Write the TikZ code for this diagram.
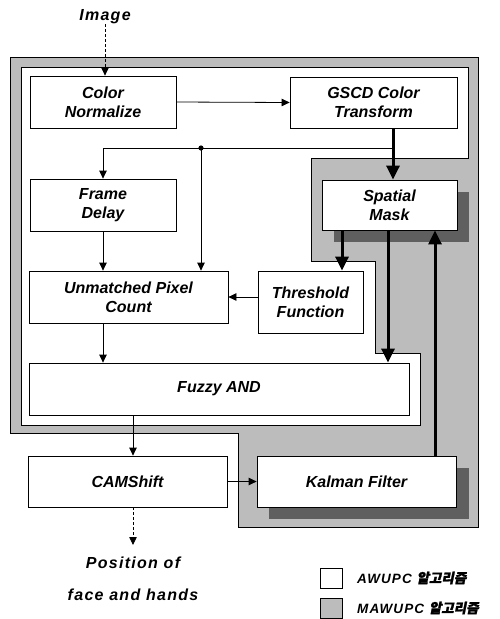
\documentclass[tikz,border=0pt]{standalone}
\usepackage{fontspec}
\setmainfont{Liberation Sans}
\newfontfamily\spaced[LetterSpace=8]{Liberation Sans}
\newfontfamily\krfont[FakeSlant=0.2,FakeBold=1.5]{Noto Sans CJK KR}
\usetikzlibrary{arrows.meta}
\definecolor{graybg}{RGB}{188,188,188}
\definecolor{shadowc}{RGB}{95,95,95}
\newcommand{\lblfont}{\bfseries\itshape\fontsize{16}{19}\selectfont}
\newcommand{\bigfont}{\spaced\bfseries\itshape\fontsize{16}{19}\selectfont}
\newcommand{\legfont}{\spaced\bfseries\itshape\fontsize{13.5}{16}\selectfont}
\begin{document}
\begin{tikzpicture}[x=1pt,y=-1pt,
  blk/.style={draw,line width=0.8pt,fill=white,inner sep=0pt,align=center,font=\lblfont},
  tarrow/.style={line width=0.8pt,-{Triangle[length=8pt,width=7.5pt]}},
  darrow/.style={line width=0.8pt,dashed,dash pattern=on 3pt off 2pt,-{Triangle[length=8pt,width=7.5pt]}},
  karrow/.style={line width=3pt,-{Triangle[length=14pt,width=13pt]}},
  lbl/.style={inner sep=0pt,font=\bigfont}]
\useasboundingbox (0,0) rectangle (500,619);
\fill[white] (0,0) rectangle (500,619);
% regions
\filldraw[fill=graybg,line width=0.8pt] (10,57) -- (478,57) -- (478,527) -- (238,527) -- (238,433) -- (10,433) -- cycle;
\filldraw[fill=white,line width=0.8pt] (21,67) -- (468,67) -- (468,158) -- (311,158) -- (311,261) -- (375,261) -- (375,353) -- (420,353) -- (420,425) -- (21,425) -- cycle;
% shadows
\fill[shadowc] (334,192) rectangle (469,242);
\fill[shadowc] (269,468) rectangle (469,519);
% boxes
\node[blk,minimum width=146pt,minimum height=52pt] (cn) at (103,102) {Color\\Normalize};
\node[blk,minimum width=167pt,minimum height=51pt] (gscd) at (373.5,102.5) {GSCD Color\\Transform};
\node[blk,minimum width=146pt,minimum height=52pt] (fd) at (103,205) {Frame\\Delay};
\node[blk,minimum width=199pt,minimum height=52pt] (upc) at (128.5,297) {Unmatched Pixel\\Count};
\node[blk,minimum width=105pt,minimum height=62pt] (thr) at (310.5,302) {Threshold\\Function};
\node[blk,minimum width=135pt,minimum height=50pt] (sm) at (389.5,205) {Spatial\\Mask};
\node[blk,minimum width=380pt,minimum height=52pt] (fand) at (219,389) {Fuzzy AND};
\node[blk,minimum width=199pt,minimum height=51pt] (cam) at (127.5,481.5) {CAMShift};
\node[blk,minimum width=199pt,minimum height=51pt] (kal) at (356.5,481.5) {Kalman Filter};
% texts
\node[lbl] (img) at (105,17) {Image};
\node[lbl] (pos1) at (133,563) {Position of};
\node[lbl] (pos2) at (133,595) {face and hands};
% column coordinates
\coordinate (xg) at (393,0);
\coordinate (c1) at (342,0);
\coordinate (c2) at (388,0);
\coordinate (c3) at (435,0);
\coordinate (c4) at (133,0);
\coordinate (br) at (393,148);
\coordinate (dot) at (201,148);
\coordinate (pend) at (133,545);
% connectors
\draw[darrow] (img.south) -- (img.south |- cn.north);
\draw[tarrow] (cn.east) -- (gscd.west);
\draw[karrow] (gscd.south -| xg) -- (sm.north -| xg);
\draw[line width=0.8pt] (br) -- (dot);
\draw[tarrow] (dot) -- (dot -| fd.north) -- (fd.north);
\fill (dot) circle (2.6pt);
\draw[tarrow] (dot) -- (dot |- upc.north);
\draw[tarrow] (fd.south) -- (fd.south |- upc.north);
\draw[tarrow] (thr.west |- upc.east) -- (upc.east);
\draw[karrow] (sm.south -| c1) -- (thr.north -| c1);
\draw[karrow] (sm.south -| c2) -- (fand.north -| c2);
\draw[karrow] (kal.north -| c3) -- (sm.south -| c3);
\draw[tarrow] (upc.south -| fd.south) -- (fand.north -| fd.south);
\draw[tarrow] (fand.south -| c4) -- (cam.north -| c4);
\draw[tarrow] (cam.east) -- (kal.west);
\draw[darrow] (cam.south -| c4) -- (pend);
% legend
\node[draw,line width=0.8pt,fill=white,minimum width=22pt,minimum height=20pt,inner sep=0pt] (lg1) at (331,578) {};
\node[draw,line width=0.8pt,fill=graybg,minimum width=22pt,minimum height=20pt,inner sep=0pt] (lg2) at (331,608) {};
\node[anchor=west,inner sep=0pt,font=\legfont] (lt1) at (357,578) {AWUPC {\krfont 알고리즘}};
\node[anchor=west,inner sep=0pt,font=\legfont] (lt2) at (357,608) {MAWUPC {\krfont 알고리즘}};
\end{tikzpicture}
\end{document}
